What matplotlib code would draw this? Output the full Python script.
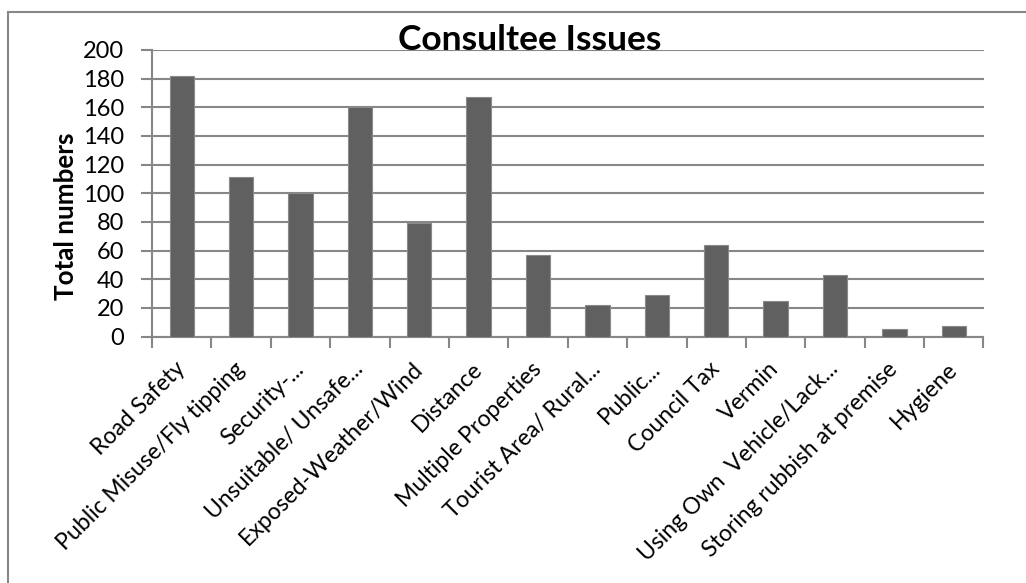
import matplotlib
matplotlib.use("Agg")
import matplotlib.pyplot as plt
from matplotlib.patches import Rectangle
import numpy as np

plt.rcParams['font.family'] = ['Lato', 'DejaVu Sans']

categories = ["Road Safety", "Public Misuse/Fly tipping", "Security-...",
              "Unsuitable/ Unsafe...", "Exposed-Weather/Wind", "Distance",
              "Multiple Properties", "Tourist Area/ Rural...", "Public...",
              "Council Tax", "Vermin", "Using Own  Vehicle/Lack...",
              "Storing rubbish at premise", "Hygiene"]
totals = [182, 111, 100, 160, 79, 167, 57, 22, 29, 64, 25, 43, 5, 7]
yticks = list(range(0, 201, 20))

grey = "#878787"

fig = plt.figure(figsize=(10.26, 5.83), dpi=100)
W, H = 1026, 583
ax = fig.add_axes([152 / W, 1 - 336.5 / H, (983.5 - 152) / W, (336.5 - 50) / H])

x = np.arange(len(categories))
ax.bar(x, totals, width=0.41, color="#606060", edgecolor="#8a8a8a",
       linewidth=0.8, zorder=3)

ax.set_xlim(-0.5, len(categories) - 0.5)
ax.set_ylim(0, 200)
ax.set_yticks(yticks)
ax.set_yticklabels([str(v) for v in yticks], fontsize=17)
ax.yaxis.grid(True, color=grey, linewidth=1.5, zorder=0)
ax.tick_params(axis="y", length=8, width=1.5, color=grey, pad=12)

# ticks between categories, labels centred under bars
ax.set_xticks(np.arange(-0.5, len(categories), 1.0))
ax.set_xticklabels([])
ax.set_xticks(x, minor=True)
ax.set_xticklabels(categories, minor=True, rotation=45, ha="right",
                   va="center", rotation_mode="anchor", fontsize=16.6)
ax.tick_params(axis="x", which="major", length=8, width=1.5, color=grey)
ax.tick_params(axis="x", which="minor", length=0, pad=21)

for side in ["top", "right"]:
    ax.spines[side].set_visible(False)
for side in ["left", "bottom"]:
    ax.spines[side].set_color(grey)
    ax.spines[side].set_linewidth(1.5)

ax.set_ylabel("Total numbers", fontsize=18.7, fontweight="bold")
ax.yaxis.set_label_coords(-0.089, 0.42)

fig.text(530 / W, 1 - 50 / H, "Consultee Issues", fontsize=25.5,
         fontweight="bold", ha="center", va="baseline")

# chart area frame, running off the right and bottom edges
fig.patches.append(Rectangle((8 / W, -0.2), 1.2, 1.2 - 12 / H,
                             transform=fig.transFigure, fill=False,
                             edgecolor=grey, linewidth=1.5))

fig.savefig("out.png", dpi=100)
